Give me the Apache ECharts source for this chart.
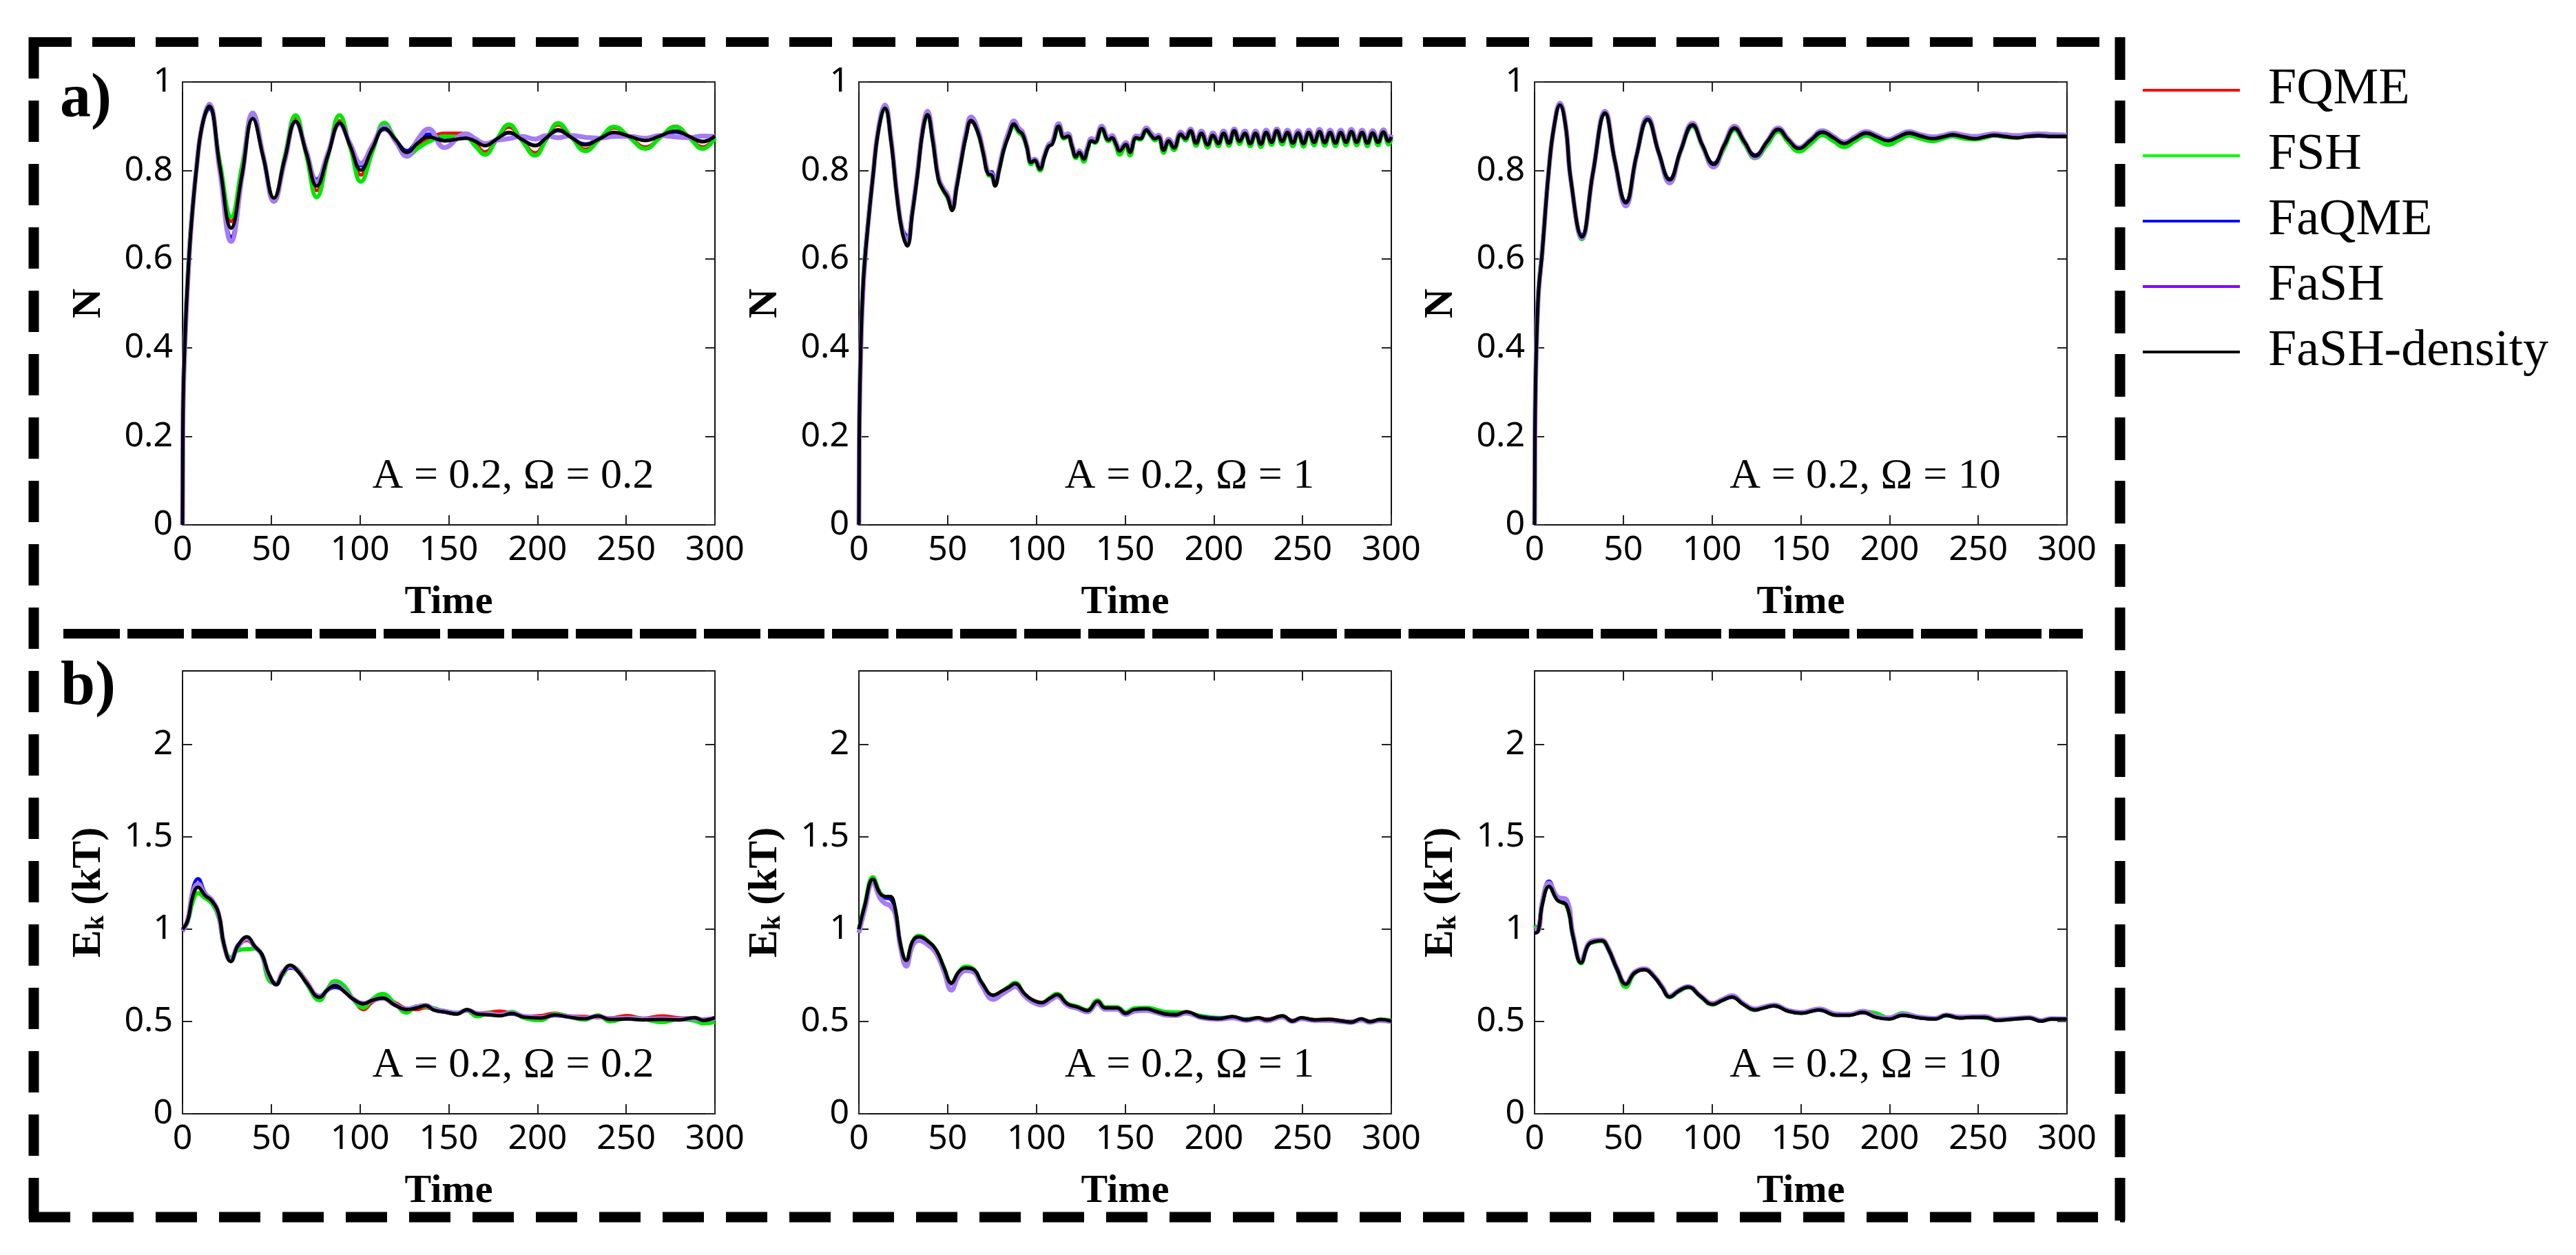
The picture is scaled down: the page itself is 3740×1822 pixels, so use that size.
<!DOCTYPE html>
<html>
<head>
<meta charset="utf-8">
<script src="https://cdn.jsdelivr.net/npm/echarts@6/dist/echarts.min.js"></script>
<style>
  html, body { margin: 0; padding: 0; background: #fff; }
  #chart { width: 3740px; height: 1822px; }
</style>
</head>
<body>
<div id="chart"></div>
<script>
// ---- legend / series names ----
const seriesNames = ['FQME', 'FSH', 'FaQME', 'FaSH', 'FaSH-density'];

// ---- tick labels ----
const timeTicks = [0, 50, 100, 150, 200, 250, 300];
const nTicks = [0, 0.2, 0.4, 0.6, 0.8, 1];
const ekTicks = [0, 0.5, 1, 1.5, 2];
const ekMax = 2.4;

// ---- a) population N, A = 0.2, Omega = 0.2 ----
const timeN1 = [0, 0.3, 1.5, 3, 5, 8, 11, 15, 21, 27.4,
  33.5, 39.6, 45.5, 51.5, 57.5, 63.7, 69.7, 75.6, 82, 88.5,
  94.5, 100.5, 107, 113.8, 120, 126.5, 132.5, 138.7, 147.5, 159.6,
  165, 170.4, 177, 183.9, 191, 198.7, 205, 211.6, 219, 227,
  235, 243.3, 252, 260.8, 269, 277.7, 285.5, 293.2, 300];
const fqmeN1 = [0, 0.26, 0.43, 0.56, 0.68, 0.81, 0.9, 0.945, 0.815, 0.685,
  0.8, 0.922, 0.83, 0.735, 0.827, 0.918, 0.838, 0.755, 0.834, 0.912,
  0.853, 0.79, 0.846, 0.902, 0.87, 0.838, 0.858, 0.872, 0.884, 0.884,
  0.862, 0.842, 0.87, 0.898, 0.87, 0.84, 0.872, 0.903, 0.875, 0.848,
  0.871, 0.896, 0.876, 0.853, 0.874, 0.9, 0.876, 0.853, 0.874];
const fshN1 = [0, 0.26, 0.44, 0.57, 0.69, 0.81, 0.9, 0.945, 0.82, 0.695,
  0.81, 0.93, 0.83, 0.73, 0.83, 0.925, 0.835, 0.74, 0.833, 0.925,
  0.852, 0.775, 0.842, 0.908, 0.87, 0.832, 0.85, 0.865, 0.877, 0.876,
  0.855, 0.836, 0.87, 0.904, 0.869, 0.834, 0.87, 0.907, 0.876, 0.844,
  0.871, 0.899, 0.874, 0.849, 0.874, 0.899, 0.874, 0.849, 0.873];
const faqmeN1 = [0, 0.25, 0.42, 0.55, 0.68, 0.81, 0.9, 0.94, 0.8, 0.65,
  0.785, 0.92, 0.83, 0.735, 0.823, 0.91, 0.845, 0.78, 0.842, 0.905,
  0.858, 0.811, 0.853, 0.893, 0.87, 0.845, 0.868, 0.882, 0.868, 0.874,
  0.866, 0.858, 0.871, 0.885, 0.871, 0.857, 0.874, 0.89, 0.875, 0.86,
  0.872, 0.885, 0.877, 0.869, 0.878, 0.887, 0.877, 0.866, 0.877];
const fashN1 = [0, 0.25, 0.42, 0.55, 0.68, 0.81, 0.9, 0.95, 0.8, 0.64,
  0.785, 0.93, 0.833, 0.73, 0.82, 0.91, 0.845, 0.775, 0.84, 0.905,
  0.86, 0.816, 0.857, 0.899, 0.866, 0.832, 0.87, 0.894, 0.852, 0.883,
  0.872, 0.861, 0.868, 0.872, 0.877, 0.871, 0.879, 0.874, 0.879, 0.875,
  0.873, 0.877, 0.877, 0.873, 0.879, 0.876, 0.874, 0.878, 0.877];
const densityN1 = [0, 0.26, 0.43, 0.56, 0.68, 0.81, 0.9, 0.945, 0.81, 0.67,
  0.79, 0.917, 0.83, 0.738, 0.825, 0.911, 0.84, 0.765, 0.835, 0.907,
  0.855, 0.801, 0.85, 0.895, 0.87, 0.841, 0.862, 0.876, 0.867, 0.873,
  0.866, 0.856, 0.871, 0.886, 0.871, 0.856, 0.874, 0.892, 0.875, 0.858,
  0.872, 0.886, 0.877, 0.868, 0.878, 0.889, 0.877, 0.865, 0.878];

// ---- a) population N, A = 0.2, Omega = 1 ----
const timeN2 = [0, 0.3, 1.2, 2.5, 4.5, 8, 11, 14.7, 18, 21.5,
  24.5, 27.3, 30, 33, 36, 38.6, 41.5, 44.8, 47.5, 50,
  52.5, 55, 57.4, 60.5, 63.2, 67, 70, 72.9, 74.8, 76.7,
  79, 81.6, 84.5, 87.4, 90, 92.2, 94.5, 97.1, 99, 102,
  104.5, 106.8, 109, 112.6, 115.5, 117.8, 120, 122.3, 124.2, 126.7,
  129, 131, 133, 136.8, 140.7, 142.6, 144.8, 146.9, 150.4, 152.7,
  156.2, 158.5, 162, 164.5, 166.9, 168.8, 171.7, 174.6, 177.5, 181.4,
  184, 186.8, 190, 193, 196.5, 199.5, 202.5, 205.5, 208.5, 211.5,
  214.5, 217.5, 220.5, 223.5, 226.5, 229.5, 232.5, 235.5, 238.5, 241.5,
  244.5, 247.5, 250.5, 253.5, 256.5, 259.5, 262.5, 265.5, 268.5, 271.5,
  274.5, 277.5, 280.5, 283.5, 286.5, 289.5, 292.5, 295.5, 298.5, 300];
const fqmeN2 = [0, 0.24, 0.42, 0.55, 0.65, 0.79, 0.89, 0.94, 0.87, 0.742,
  0.665, 0.64, 0.7, 0.79, 0.885, 0.922, 0.87, 0.785, 0.76, 0.742,
  0.715, 0.762, 0.815, 0.878, 0.91, 0.886, 0.842, 0.797, 0.795, 0.772,
  0.802, 0.846, 0.879, 0.903, 0.889, 0.881, 0.856, 0.82, 0.824, 0.806,
  0.831, 0.854, 0.861, 0.898, 0.874, 0.877, 0.856, 0.833, 0.842, 0.829,
  0.851, 0.867, 0.865, 0.893, 0.87, 0.874, 0.861, 0.846, 0.859, 0.844,
  0.873, 0.872, 0.89, 0.88, 0.872, 0.875, 0.848, 0.866, 0.853, 0.881,
  0.872, 0.888, 0.863, 0.883, 0.86, 0.88, 0.862, 0.883, 0.863, 0.888,
  0.866, 0.884, 0.862, 0.884, 0.861, 0.885, 0.865, 0.888, 0.866, 0.885,
  0.863, 0.885, 0.862, 0.885, 0.864, 0.887, 0.864, 0.886, 0.863, 0.886,
  0.864, 0.887, 0.865, 0.886, 0.863, 0.885, 0.865, 0.886, 0.866, 0.876];
const fshN2 = [0, 0.25, 0.43, 0.56, 0.66, 0.79, 0.89, 0.94, 0.87, 0.74,
  0.66, 0.635, 0.7, 0.79, 0.89, 0.925, 0.87, 0.78, 0.755, 0.738,
  0.712, 0.76, 0.815, 0.882, 0.915, 0.886, 0.838, 0.79, 0.787, 0.768,
  0.8, 0.846, 0.882, 0.9, 0.886, 0.878, 0.852, 0.814, 0.822, 0.8,
  0.83, 0.856, 0.862, 0.898, 0.872, 0.876, 0.852, 0.828, 0.838, 0.82,
  0.848, 0.868, 0.862, 0.893, 0.866, 0.872, 0.855, 0.836, 0.856, 0.834,
  0.872, 0.87, 0.89, 0.878, 0.868, 0.873, 0.84, 0.864, 0.846, 0.88,
  0.868, 0.888, 0.856, 0.882, 0.852, 0.879, 0.855, 0.883, 0.856, 0.889,
  0.86, 0.884, 0.855, 0.883, 0.853, 0.886, 0.858, 0.889, 0.859, 0.885,
  0.855, 0.884, 0.854, 0.885, 0.857, 0.887, 0.856, 0.885, 0.855, 0.885,
  0.857, 0.887, 0.857, 0.885, 0.855, 0.884, 0.857, 0.886, 0.859, 0.872];
const faqmeN2 = [0, 0.24, 0.42, 0.55, 0.65, 0.79, 0.89, 0.94, 0.87, 0.745,
  0.67, 0.652, 0.71, 0.795, 0.888, 0.924, 0.87, 0.782, 0.758, 0.742,
  0.714, 0.762, 0.816, 0.879, 0.912, 0.887, 0.841, 0.795, 0.797, 0.775,
  0.803, 0.847, 0.88, 0.904, 0.89, 0.882, 0.856, 0.82, 0.825, 0.807,
  0.832, 0.854, 0.861, 0.899, 0.875, 0.878, 0.856, 0.833, 0.842, 0.829,
  0.851, 0.867, 0.865, 0.894, 0.87, 0.874, 0.861, 0.846, 0.859, 0.843,
  0.874, 0.872, 0.891, 0.88, 0.872, 0.876, 0.847, 0.867, 0.852, 0.882,
  0.872, 0.889, 0.862, 0.884, 0.859, 0.88, 0.861, 0.884, 0.862, 0.889,
  0.866, 0.884, 0.861, 0.884, 0.86, 0.886, 0.864, 0.889, 0.866, 0.886,
  0.862, 0.885, 0.861, 0.886, 0.864, 0.888, 0.863, 0.886, 0.862, 0.886,
  0.864, 0.888, 0.864, 0.886, 0.862, 0.885, 0.864, 0.887, 0.866, 0.876];
const fashN2 = [0, 0.23, 0.41, 0.54, 0.65, 0.79, 0.895, 0.948, 0.875, 0.745,
  0.665, 0.64, 0.705, 0.795, 0.895, 0.934, 0.878, 0.785, 0.76, 0.745,
  0.715, 0.765, 0.82, 0.888, 0.921, 0.893, 0.845, 0.795, 0.792, 0.77,
  0.805, 0.852, 0.888, 0.912, 0.896, 0.887, 0.858, 0.822, 0.826, 0.807,
  0.834, 0.858, 0.866, 0.906, 0.88, 0.883, 0.859, 0.835, 0.845, 0.83,
  0.855, 0.872, 0.869, 0.9, 0.874, 0.879, 0.864, 0.848, 0.863, 0.846,
  0.878, 0.877, 0.896, 0.885, 0.877, 0.88, 0.851, 0.871, 0.856, 0.887,
  0.877, 0.894, 0.866, 0.889, 0.863, 0.885, 0.866, 0.889, 0.866, 0.894,
  0.87, 0.889, 0.866, 0.889, 0.865, 0.891, 0.868, 0.894, 0.87, 0.891,
  0.867, 0.89, 0.866, 0.891, 0.868, 0.893, 0.867, 0.891, 0.866, 0.891,
  0.868, 0.893, 0.868, 0.891, 0.866, 0.89, 0.868, 0.892, 0.87, 0.881];
const densityN2 = [0, 0.24, 0.42, 0.55, 0.65, 0.79, 0.89, 0.941, 0.87, 0.74,
  0.66, 0.63, 0.7, 0.79, 0.89, 0.926, 0.87, 0.78, 0.756, 0.74,
  0.71, 0.76, 0.815, 0.88, 0.913, 0.887, 0.84, 0.792, 0.79, 0.765,
  0.8, 0.846, 0.88, 0.905, 0.89, 0.882, 0.855, 0.818, 0.823, 0.803,
  0.83, 0.854, 0.86, 0.9, 0.874, 0.878, 0.855, 0.831, 0.841, 0.826,
  0.85, 0.867, 0.864, 0.895, 0.869, 0.874, 0.86, 0.844, 0.859, 0.841,
  0.874, 0.872, 0.892, 0.88, 0.872, 0.876, 0.846, 0.867, 0.851, 0.882,
  0.872, 0.89, 0.862, 0.884, 0.858, 0.88, 0.861, 0.884, 0.862, 0.89,
  0.866, 0.884, 0.861, 0.884, 0.86, 0.886, 0.864, 0.89, 0.866, 0.886,
  0.862, 0.885, 0.861, 0.886, 0.864, 0.888, 0.863, 0.886, 0.862, 0.886,
  0.864, 0.888, 0.864, 0.886, 0.862, 0.885, 0.864, 0.887, 0.866, 0.876];

// ---- a) population N, A = 0.2, Omega = 10 ----
const timeN3 = [0, 0.3, 1.9, 4.4, 8.1, 11, 14.3, 17.5, 20.4, 26.7,
  32.9, 39.7, 45.2, 51.4, 57.5, 63.7, 70, 76.1, 82.3, 89,
  94.6, 100.8, 107, 112.7, 118.2, 124.3, 131, 137.4, 142.8, 149,
  155.5, 162.2, 168.5, 174.5, 180.5, 186.9, 193, 199.3, 205, 210.9,
  217.5, 224.5, 230, 235.6, 242, 248, 253.5, 259.1, 265, 271.5,
  277.5, 283.8, 292, 300];
const fqmeN3 = [0, 0.245, 0.5, 0.62, 0.805, 0.9, 0.947, 0.9, 0.78, 0.652,
  0.795, 0.93, 0.823, 0.728, 0.835, 0.915, 0.84, 0.78, 0.845, 0.902,
  0.857, 0.815, 0.858, 0.895, 0.865, 0.834, 0.865, 0.892, 0.87, 0.851,
  0.868, 0.886, 0.874, 0.862, 0.873, 0.884, 0.876, 0.868, 0.876, 0.884,
  0.878, 0.873, 0.876, 0.88, 0.876, 0.873, 0.876, 0.879, 0.877, 0.875,
  0.877, 0.878, 0.877, 0.877];
const fshN3 = [0, 0.25, 0.51, 0.63, 0.805, 0.9, 0.95, 0.9, 0.78, 0.645,
  0.795, 0.928, 0.82, 0.722, 0.833, 0.915, 0.838, 0.774, 0.842, 0.9,
  0.853, 0.808, 0.852, 0.892, 0.86, 0.828, 0.858, 0.888, 0.864, 0.843,
  0.86, 0.88, 0.866, 0.853, 0.866, 0.879, 0.868, 0.858, 0.868, 0.879,
  0.872, 0.866, 0.872, 0.877, 0.872, 0.87, 0.874, 0.879, 0.876, 0.874,
  0.878, 0.881, 0.879, 0.878];
const faqmeN3 = [0, 0.24, 0.5, 0.62, 0.805, 0.9, 0.946, 0.9, 0.78, 0.655,
  0.795, 0.928, 0.823, 0.73, 0.835, 0.914, 0.84, 0.781, 0.845, 0.902,
  0.857, 0.816, 0.858, 0.895, 0.865, 0.835, 0.865, 0.892, 0.87, 0.852,
  0.868, 0.886, 0.874, 0.862, 0.873, 0.884, 0.876, 0.868, 0.876, 0.884,
  0.878, 0.873, 0.876, 0.88, 0.876, 0.873, 0.876, 0.879, 0.877, 0.875,
  0.877, 0.878, 0.877, 0.877];
const fashN3 = [0, 0.24, 0.5, 0.62, 0.805, 0.9, 0.952, 0.902, 0.78, 0.648,
  0.795, 0.934, 0.823, 0.72, 0.835, 0.92, 0.84, 0.772, 0.845, 0.907,
  0.857, 0.808, 0.86, 0.9, 0.866, 0.83, 0.866, 0.896, 0.872, 0.852,
  0.87, 0.89, 0.877, 0.864, 0.876, 0.888, 0.879, 0.87, 0.879, 0.888,
  0.881, 0.876, 0.879, 0.884, 0.88, 0.877, 0.88, 0.883, 0.881, 0.879,
  0.881, 0.883, 0.881, 0.88];
const densityN3 = [0, 0.245, 0.503, 0.62, 0.805, 0.9, 0.948, 0.9, 0.78, 0.65,
  0.795, 0.93, 0.823, 0.727, 0.835, 0.916, 0.84, 0.779, 0.845, 0.903,
  0.857, 0.814, 0.858, 0.896, 0.865, 0.833, 0.865, 0.893, 0.87, 0.85,
  0.868, 0.887, 0.874, 0.861, 0.873, 0.885, 0.876, 0.867, 0.876, 0.885,
  0.878, 0.872, 0.876, 0.881, 0.876, 0.872, 0.876, 0.88, 0.877, 0.874,
  0.877, 0.879, 0.877, 0.877];

// ---- b) kinetic energy Ek (kT), A = 0.2, Omega = 0.2 ----
const timeE1 = [0, 2.9, 5.8, 8.7, 12.6, 16.5, 20.4, 23.3, 27.2, 31.1,
  36.3, 40.8, 44.7, 48.6, 52.8, 56.3, 60.6, 65.1, 69.9, 77.3,
  81.6, 85.9, 91.3, 96.2, 102, 106.9, 112.7, 119.5, 126.3, 132,
  137, 141.8, 147.7, 154.5, 160.3, 166.1, 172.9, 178.7, 185.5, 192.3,
  202, 209.8, 217.6, 226.3, 234.1, 240.9, 250.6, 259.4, 270, 279.8,
  288.5, 293.4, 300];
const fqmeE1 = [1.0, 1.045, 1.17, 1.235, 1.19, 1.15, 1.07, 0.915, 0.835, 0.9,
  0.94, 0.9, 0.86, 0.75, 0.705, 0.77, 0.79, 0.775, 0.72, 0.625,
  0.675, 0.705, 0.67, 0.62, 0.565, 0.605, 0.63, 0.605, 0.57, 0.565,
  0.575, 0.567, 0.558, 0.548, 0.56, 0.545, 0.55, 0.556, 0.545, 0.528,
  0.532, 0.545, 0.53, 0.527, 0.522, 0.52, 0.532, 0.518, 0.53, 0.52,
  0.518, 0.512, 0.52];
const fshE1 = [1.0, 1.04, 1.15, 1.196, 1.17, 1.14, 1.06, 0.91, 0.846, 0.885,
  0.892, 0.895, 0.855, 0.725, 0.709, 0.75, 0.796, 0.78, 0.705, 0.615,
  0.675, 0.719, 0.69, 0.62, 0.575, 0.62, 0.649, 0.6, 0.548, 0.582,
  0.58, 0.572, 0.555, 0.548, 0.558, 0.528, 0.545, 0.535, 0.552, 0.52,
  0.508, 0.54, 0.528, 0.51, 0.534, 0.5, 0.52, 0.515, 0.496, 0.512,
  0.505, 0.49, 0.497];
const faqmeE1 = [0.99, 1.06, 1.22, 1.274, 1.2, 1.155, 1.08, 0.915, 0.83, 0.915,
  0.945, 0.91, 0.862, 0.755, 0.705, 0.76, 0.79, 0.775, 0.71, 0.64,
  0.668, 0.685, 0.665, 0.625, 0.6, 0.612, 0.625, 0.588, 0.568, 0.576,
  0.585, 0.563, 0.55, 0.542, 0.56, 0.544, 0.538, 0.534, 0.54, 0.527,
  0.521, 0.532, 0.526, 0.518, 0.527, 0.514, 0.516, 0.512, 0.514, 0.512,
  0.516, 0.51, 0.518];
const fashE1 = [0.99, 1.05, 1.2, 1.245, 1.19, 1.16, 1.08, 0.92, 0.83, 0.905,
  0.95, 0.905, 0.862, 0.755, 0.702, 0.762, 0.8, 0.774, 0.712, 0.635,
  0.67, 0.7, 0.665, 0.622, 0.598, 0.614, 0.626, 0.592, 0.568, 0.58,
  0.588, 0.566, 0.556, 0.545, 0.562, 0.544, 0.54, 0.536, 0.546, 0.528,
  0.522, 0.534, 0.527, 0.518, 0.528, 0.515, 0.518, 0.513, 0.515, 0.512,
  0.518, 0.51, 0.517];
const densityE1 = [1.0, 1.046, 1.18, 1.228, 1.184, 1.153, 1.084, 0.921, 0.825, 0.909,
  0.959, 0.906, 0.865, 0.759, 0.7, 0.759, 0.805, 0.771, 0.709, 0.631,
  0.671, 0.694, 0.661, 0.621, 0.596, 0.615, 0.627, 0.59, 0.565, 0.574,
  0.586, 0.561, 0.552, 0.54, 0.565, 0.54, 0.536, 0.531, 0.544, 0.524,
  0.519, 0.536, 0.524, 0.515, 0.53, 0.511, 0.514, 0.509, 0.511, 0.509,
  0.521, 0.506, 0.521];

// ---- b) kinetic energy Ek (kT), A = 0.2, Omega = 1 ----
const timeE2 = [0, 3.1, 7.9, 11.8, 14.7, 17.6, 20.5, 23.4, 26.7, 30.2,
  33.7, 39, 43.8, 48, 52.1, 56.4, 60.3, 65.1, 69, 75.8,
  80.6, 84.5, 88, 93.2, 97.1, 102.9, 107.8, 111.6, 117.4, 123.3,
  128.7, 134.5, 138.8, 145.5, 150.4, 155.2, 162, 166.9, 172.7, 178.5,
  184.3, 193, 202.7, 210.5, 218.2, 225, 229.8, 238.6, 244.4, 249.2,
  257, 264.7, 272.5, 277.3, 283.1, 288, 293.8, 300];
const fqmeE2 = [1.0, 1.12, 1.265, 1.195, 1.175, 1.17, 1.105, 0.92, 0.83, 0.93,
  0.955, 0.93, 0.88, 0.788, 0.71, 0.77, 0.788, 0.776, 0.714, 0.642,
  0.664, 0.684, 0.702, 0.652, 0.622, 0.604, 0.627, 0.644, 0.598, 0.58,
  0.562, 0.605, 0.576, 0.574, 0.547, 0.566, 0.568, 0.558, 0.542, 0.538,
  0.55, 0.527, 0.518, 0.525, 0.512, 0.52, 0.512, 0.528, 0.506, 0.518,
  0.51, 0.512, 0.505, 0.5, 0.512, 0.502, 0.51, 0.503];
const fshE2 = [1.0, 1.125, 1.282, 1.2, 1.175, 1.17, 1.105, 0.92, 0.828, 0.93,
  0.965, 0.935, 0.88, 0.79, 0.705, 0.77, 0.798, 0.78, 0.712, 0.64,
  0.662, 0.69, 0.71, 0.648, 0.618, 0.6, 0.63, 0.65, 0.598, 0.58,
  0.562, 0.615, 0.578, 0.578, 0.55, 0.572, 0.575, 0.566, 0.552, 0.55,
  0.548, 0.53, 0.52, 0.522, 0.512, 0.518, 0.505, 0.528, 0.5, 0.518,
  0.506, 0.505, 0.498, 0.495, 0.51, 0.495, 0.51, 0.505];
const faqmeE2 = [1.0, 1.12, 1.268, 1.19, 1.17, 1.165, 1.1, 0.915, 0.825, 0.928,
  0.952, 0.928, 0.878, 0.785, 0.705, 0.765, 0.785, 0.775, 0.71, 0.638,
  0.66, 0.68, 0.698, 0.65, 0.618, 0.6, 0.624, 0.64, 0.594, 0.576,
  0.558, 0.6, 0.572, 0.572, 0.545, 0.562, 0.566, 0.556, 0.542, 0.538,
  0.55, 0.526, 0.518, 0.524, 0.512, 0.519, 0.51, 0.526, 0.505, 0.518,
  0.509, 0.51, 0.503, 0.499, 0.511, 0.501, 0.509, 0.503];
const fashE2 = [0.98, 1.1, 1.255, 1.17, 1.14, 1.128, 1.08, 0.905, 0.8, 0.91,
  0.94, 0.915, 0.865, 0.77, 0.67, 0.75, 0.775, 0.765, 0.7, 0.62,
  0.648, 0.672, 0.69, 0.64, 0.61, 0.59, 0.615, 0.635, 0.588, 0.57,
  0.552, 0.598, 0.566, 0.566, 0.538, 0.556, 0.56, 0.55, 0.535, 0.532,
  0.546, 0.52, 0.512, 0.52, 0.506, 0.516, 0.504, 0.524, 0.5, 0.515,
  0.505, 0.506, 0.5, 0.495, 0.508, 0.496, 0.506, 0.5];
const densityE2 = [1.0, 1.121, 1.271, 1.196, 1.178, 1.178, 1.109, 0.921, 0.831, 0.934,
  0.959, 0.934, 0.884, 0.79, 0.709, 0.771, 0.79, 0.778, 0.715, 0.643,
  0.665, 0.686, 0.705, 0.652, 0.621, 0.602, 0.627, 0.646, 0.596, 0.578,
  0.559, 0.609, 0.574, 0.574, 0.544, 0.565, 0.569, 0.556, 0.54, 0.536,
  0.553, 0.524, 0.515, 0.527, 0.509, 0.521, 0.509, 0.531, 0.502, 0.521,
  0.509, 0.511, 0.502, 0.496, 0.515, 0.499, 0.511, 0.502];

// ---- b) kinetic energy Ek (kT), A = 0.2, Omega = 10 ----
const timeE3 = [0, 1.9, 4.4, 8.1, 13, 18, 21.7, 26.2, 30.3, 34.1,
  37.8, 41.5, 46.4, 51.4, 56.3, 61.8, 67.4, 71.8, 76.1, 81.1,
  86.5, 93.4, 100.3, 105.8, 111.2, 117.6, 124.3, 129.5, 134.9, 142.8,
  150.3, 160.2, 170.1, 177.5, 184.9, 192.3, 199.8, 207.2, 217.1, 225.7,
  231.9, 239.4, 246.7, 254.1, 260.4, 270.2, 278.9, 285.2, 291.3, 300];
const fqmeE3 = [0.99, 0.99, 1.14, 1.24, 1.16, 1.13, 0.958, 0.82, 0.915, 0.934,
  0.937, 0.893, 0.784, 0.703, 0.762, 0.78, 0.742, 0.686, 0.634, 0.665,
  0.686, 0.638, 0.594, 0.615, 0.633, 0.594, 0.565, 0.576, 0.585, 0.557,
  0.547, 0.563, 0.536, 0.536, 0.55, 0.526, 0.516, 0.534, 0.52, 0.515,
  0.532, 0.52, 0.523, 0.523, 0.508, 0.514, 0.518, 0.504, 0.513, 0.513];
const fshE3 = [1.02, 1.0, 1.14, 1.235, 1.158, 1.128, 0.958, 0.815, 0.915, 0.932,
  0.936, 0.89, 0.78, 0.687, 0.76, 0.785, 0.745, 0.688, 0.632, 0.662,
  0.685, 0.635, 0.592, 0.616, 0.636, 0.595, 0.562, 0.58, 0.59, 0.558,
  0.547, 0.566, 0.538, 0.54, 0.553, 0.545, 0.52, 0.545, 0.522, 0.516,
  0.532, 0.522, 0.524, 0.52, 0.51, 0.515, 0.52, 0.505, 0.514, 0.512];
const faqmeE3 = [0.99, 1.0, 1.16, 1.261, 1.17, 1.135, 0.955, 0.82, 0.915, 0.935,
  0.94, 0.89, 0.78, 0.705, 0.762, 0.782, 0.74, 0.684, 0.635, 0.664,
  0.686, 0.638, 0.595, 0.614, 0.632, 0.594, 0.564, 0.575, 0.584, 0.557,
  0.546, 0.562, 0.535, 0.535, 0.549, 0.524, 0.515, 0.533, 0.52, 0.514,
  0.532, 0.52, 0.522, 0.522, 0.508, 0.514, 0.518, 0.504, 0.513, 0.512];
const fashE3 = [1.0, 1.0, 1.15, 1.25, 1.175, 1.16, 0.97, 0.825, 0.92, 0.94,
  0.942, 0.898, 0.79, 0.705, 0.768, 0.786, 0.746, 0.69, 0.637, 0.668,
  0.69, 0.64, 0.598, 0.62, 0.64, 0.598, 0.568, 0.58, 0.59, 0.56,
  0.55, 0.568, 0.54, 0.538, 0.556, 0.528, 0.52, 0.538, 0.524, 0.517,
  0.536, 0.524, 0.526, 0.527, 0.51, 0.516, 0.522, 0.506, 0.516, 0.514];
const densityE3 = [0.98, 0.987, 1.135, 1.232, 1.156, 1.13, 0.96, 0.818, 0.916, 0.934,
  0.938, 0.894, 0.785, 0.702, 0.763, 0.781, 0.742, 0.685, 0.633, 0.665,
  0.687, 0.637, 0.593, 0.615, 0.633, 0.593, 0.563, 0.574, 0.585, 0.556,
  0.545, 0.563, 0.534, 0.534, 0.55, 0.523, 0.513, 0.534, 0.519, 0.513,
  0.534, 0.519, 0.523, 0.523, 0.506, 0.513, 0.519, 0.502, 0.513, 0.513];

// panel captions
const captions = ['A = 0.2, Ω = 0.2', 'A = 0.2, Ω = 1', 'A = 0.2, Ω = 10'];

// ---- layout / style ----
const lineColors = ['#ff0000', '#00e600', '#0000ff', '#a57cf2', '#000000'];
const legendColors = ['#ff0000', '#00ff00', '#0000ff', '#8000ff', '#000000'];
const lineWidths = [5, 6, 5, 7, 5];
const drawOrder = [3, 0, 1, 2, 4];
const gridLeft = [265, 1247, 2228];
const gridTop = [119, 974];
const gridW = 773;
const gridH = 643;
const serif = '"Liberation Serif", "Times New Roman", serif';
const sans = '"Noto Sans", "DejaVu Sans", sans-serif';

const panels = [
  { row: 0, col: 0, time: timeN1, values: [fqmeN1, fshN1, faqmeN1, fashN1, densityN1] },
  { row: 0, col: 1, time: timeN2, values: [fqmeN2, fshN2, faqmeN2, fashN2, densityN2] },
  { row: 0, col: 2, time: timeN3, values: [fqmeN3, fshN3, faqmeN3, fashN3, densityN3] },
  { row: 1, col: 0, time: timeE1, values: [fqmeE1, fshE1, faqmeE1, fashE1, densityE1] },
  { row: 1, col: 1, time: timeE2, values: [fqmeE2, fshE2, faqmeE2, fashE2, densityE2] },
  { row: 1, col: 2, time: timeE3, values: [fqmeE3, fshE3, faqmeE3, fashE3, densityE3] }
];

const tickStyle = { inside: true, length: 14, lineStyle: { color: '#222', width: 2 } };
const frameLine = { show: true, onZero: false, lineStyle: { color: '#111', width: 2 } };
const labelStyle = { fontFamily: sans, fontSize: 50, color: '#000' };

const grids = [], xAxes = [], yAxes = [], series = [], graphics = [];

panels.forEach(function (p, i) {
  const left = gridLeft[p.col], top = gridTop[p.row];
  const isN = p.row === 0;
  const yt = isN ? nTicks : ekTicks;
  grids.push({ left: left, top: top, width: gridW, height: gridH });

  const xBase = {
    gridIndex: i, type: 'value',
    min: timeTicks[0], max: timeTicks[timeTicks.length - 1],
    interval: timeTicks[1] - timeTicks[0],
    splitLine: { show: false }, axisLine: frameLine, axisTick: tickStyle
  };
  xAxes.push(Object.assign({}, xBase, {
    position: 'bottom',
    axisLabel: Object.assign({ margin: 12 }, labelStyle),
    name: 'Time', nameLocation: 'middle', nameGap: 84,
    nameTextStyle: { fontFamily: serif, fontWeight: 'bold', fontSize: 58, color: '#000' }
  }));
  xAxes.push(Object.assign({}, xBase, { position: 'top', axisLabel: { show: false } }));

  const yBase = {
    gridIndex: i, type: 'value',
    min: yt[0], max: isN ? yt[yt.length - 1] : ekMax,
    interval: yt[1] - yt[0],
    splitLine: { show: false }, axisLine: frameLine, axisTick: tickStyle
  };
  yAxes.push(Object.assign({}, yBase, {
    position: 'left',
    axisLabel: Object.assign({ margin: 14, showMaxLabel: isN }, labelStyle),
    name: isN ? 'N' : '{e|E}{k|k}{e| (kT)}',
    nameLocation: 'middle', nameRotate: 90, nameGap: 106,
    nameTextStyle: {
      fontFamily: serif, fontWeight: 'bold', fontSize: 60, color: '#000',
      rich: {
        e: { fontFamily: serif, fontWeight: 'bold', fontSize: 60, color: '#000' },
        k: { fontFamily: serif, fontWeight: 'bold', fontSize: 38, color: '#000', verticalAlign: 'bottom', padding: [14, 0, 0, 0] }
      }
    }
  }));
  yAxes.push(Object.assign({}, yBase, { position: 'right', axisLabel: { show: false } }));

  drawOrder.forEach(function (k) {
    series.push({
      type: 'line', name: seriesNames[k],
      xAxisIndex: 2 * i, yAxisIndex: 2 * i,
      data: p.time.map(function (t, j) { return [t, p.values[k][j]]; }),
      showSymbol: false, symbol: 'none', smooth: 0.45,
      lineStyle: { color: lineColors[k], width: lineWidths[k] },
      itemStyle: { color: lineColors[k] },
      emphasis: { disabled: true },
      z: 2 + k
    });
  });

  graphics.push({
    type: 'text', z: 10,
    style: {
      text: captions[p.col], x: left + 480, y: isN ? 692 : 1547,
      font: '62px ' + serif, fill: '#000',
      textAlign: 'center', textVerticalAlign: 'middle'
    }
  });
});

// panel letters
graphics.push({ type: 'text', style: { text: 'a)', x: 87, y: 146, font: 'bold 90px ' + serif, fill: '#000', textAlign: 'left', textVerticalAlign: 'middle' } });
graphics.push({ type: 'text', style: { text: 'b)', x: 88, y: 999, font: 'bold 90px ' + serif, fill: '#000', textAlign: 'left', textVerticalAlign: 'middle' } });

// dashed frames
function dashed(x1, y1, x2, y2, w, dash) {
  return { type: 'line', z: 1, shape: { x1: x1, y1: y1, x2: x2, y2: y2 },
    style: { stroke: '#000', lineWidth: w, lineDash: dash } };
}
graphics.push(dashed(42, 61, 3085, 61, 14, [62, 30]));
graphics.push(dashed(49, 54, 49, 1774, 15, [60, 32]));
graphics.push(dashed(42, 1767, 3085, 1767, 15, [60, 32]));
graphics.push(dashed(3078, 54, 3078, 1774, 15, [62, 30]));
graphics.push(dashed(92, 920, 3024, 920, 14, [82, 11]));

const chart = echarts.init(document.getElementById('chart'));
chart.setOption({
  animation: false,
  backgroundColor: '#ffffff',
  grid: grids,
  xAxis: xAxes,
  yAxis: yAxes,
  series: series,
  graphic: graphics,
  legend: {
    orient: 'vertical', left: 3106, top: 89,
    icon: 'rect', itemWidth: 141, itemHeight: 4, itemGap: 21,
    selectedMode: false,
    textStyle: { fontFamily: serif, fontSize: 74, color: '#000', padding: [0, 0, 0, 36] },
    data: seriesNames.map(function (n, k) {
      return { name: n, icon: 'rect', itemStyle: { color: legendColors[k] } };
    })
  }
});
</script>
</body>
</html>
